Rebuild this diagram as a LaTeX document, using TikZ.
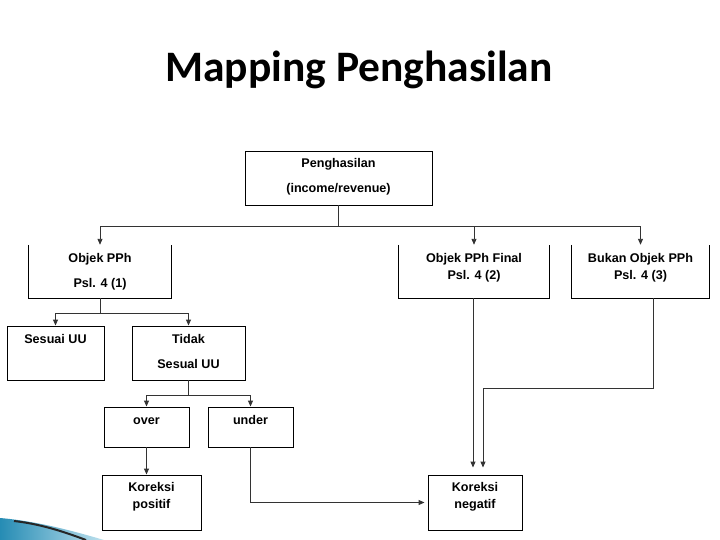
\documentclass[tikz,border=0pt]{standalone}
\usepackage{fontspec}
\newfontfamily\boxfont{Liberation Sans}
\newfontfamily\titlefont{Carlito}
\usetikzlibrary{arrows.meta,positioning}
\definecolor{swooshblue}{RGB}{38,140,180}
\definecolor{swooshlight}{RGB}{190,225,238}

\begin{document}
\begin{tikzpicture}[x=1pt,y=-1pt,
    box/.style={draw, line width=0.9pt, inner sep=0pt},
    openbox/.style={inner sep=0pt},
    txt/.style={align=center, inner sep=0pt, font=\boxfont\bfseries\fontsize{12.6}{15}\selectfont},
    arr/.style={-{Triangle[length=6pt,width=5pt]}, line width=0.9pt, draw=black!80},
    side/.style={line width=0.9pt}
]
\useasboundingbox (0,0) rectangle (720,540);

% title
\node[anchor=base, inner sep=0pt, font=\titlefont\bfseries\fontsize{43.5}{50}\selectfont] (title) at (359,82) {Mapping Penghasilan};

% boxes
\node[box, minimum width=187, minimum height=54] (peng) at (338.5,178) {};
\node[openbox, minimum width=142, minimum height=53] (objek) at (100,271.5) {};
\node[openbox, minimum width=150, minimum height=53] (final) at (474,271.5) {};
\node[openbox, minimum width=137, minimum height=53] (bukan) at (640.5,271.5) {};
\node[box, minimum width=97, minimum height=54] (sesuai) at (55.5,353) {};
\node[box, minimum width=113, minimum height=54] (tidak) at (188.5,353) {};
\node[box, minimum width=85, minimum height=40] (over) at (146.5,427) {};
\node[box, minimum width=85, minimum height=40] (under) at (250.5,427) {};
\node[box, minimum width=99, minimum height=55] (kpos) at (151.5,502.5) {};
\node[box, minimum width=94, minimum height=55] (kneg) at (475,502.5) {};

% open tops
\draw[side] (objek.north west) |- (objek.south east) -- (objek.north east);
\draw[side] (final.north west) |- (final.south east) -- (final.north east);
\draw[side] (bukan.north west) |- (bukan.south east) -- (bukan.north east);

% texts
\node[txt] (pengT) at (338.5,176.5) {Penghasilan\\[10pt](income/revenue)};
\node[txt] (objekT) at (100,271.5) {Objek PPh\\[10pt]Psl. 4 (1)};
\node[txt] (finalT) at (474,267.5) {Objek PPh Final\\[2pt]Psl. 4 (2)};
\node[txt] (bukanT) at (640.5,267.5) {Bukan Objek PPh\\[2pt]Psl. 4 (3)};
\node[txt] (sesuaiT) at (55.5,339) {Sesuai UU};
\node[txt] (tidakT) at (188.5,351.5) {Tidak\\[10pt]Sesual UU};
\node[txt, anchor=base] (overT) at (146.5,424.5) {over};
\node[txt, anchor=base] (underT) at (250.5,424.5) {under};
\node[txt] (kposT) at (151.5,496.5) {Koreksi\\[2pt]positif};
\node[txt] (knegT) at (475,496.5) {Koreksi\\[2pt]negatif};

% connectors
\draw[arr] (peng.south) -- ++(0,21) -| (objek.north);
\draw[arr] (peng.south) -- ++(0,21) -| (final.north);
\draw[arr] (peng.south) -- ++(0,21) -| (bukan.north);
\draw[arr] (objek.south) -- ++(0,15) -| (sesuai.north);
\draw[arr] (objek.south) -- ++(0,15) -| (tidak.north);
\draw[arr] (tidak.south) -- ++(0,15) -| (over.north);
\draw[arr] (tidak.south) -- ++(0,15) -| (under.north);
\draw[arr] (over.south) -- (over.south |- kpos.north);
\draw[arr, shorten >=3pt] (under.south) |- (kneg.west);
\draw[arr, shorten >=7pt] ([xshift=-1pt]final.south) -- ([xshift=-2pt]kneg.north);
\draw[arr, shorten >=7pt] ([xshift=12.5pt]bukan.south) -- ++(0,90) -| ([xshift=8pt]kneg.north);

% corner swoosh
\shade[left color=swooshblue, right color=swooshlight] (0,518) .. controls (35,521) and (70,530) .. (104,540) -- (0,540) -- cycle;
\draw[line width=2pt, black!85] (14,521) .. controls (40,524) and (62,531) .. (86,540);
\end{tikzpicture}
\end{document}
